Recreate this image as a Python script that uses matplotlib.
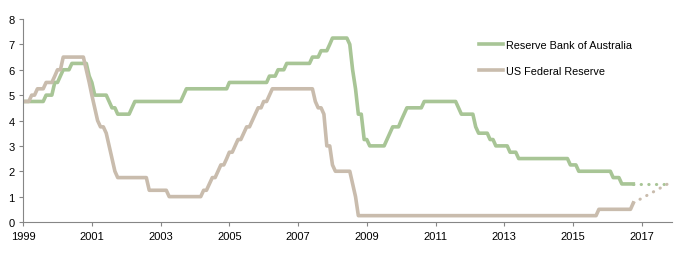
"""
Policy rates: Reserve Bank of Australia vs US Federal Reserve
"""
import pandas as pd
import matplotlib.pyplot as plt

# change points (month of change, rate %)
rba_dates = ["1999-03", "1999-11", "2000-02", "2000-04", "2000-05", "2000-08",
             "2001-02", "2001-03", "2001-04", "2001-09", "2001-10", "2001-12",
             "2002-05", "2002-06", "2003-11", "2003-12", "2005-03", "2006-05",
             "2006-08", "2006-11", "2007-08", "2007-11", "2008-02", "2008-03",
             "2008-09", "2008-10", "2008-11", "2008-12", "2009-02", "2009-04",
             "2009-10", "2009-11", "2009-12", "2010-03", "2010-04", "2010-05",
             "2010-11", "2011-11", "2011-12", "2012-05", "2012-06", "2012-10",
             "2012-12", "2013-05", "2013-08", "2015-02", "2015-05", "2016-05",
             "2016-08", "2016-12"]
rba_rates = [4.75, 5.00, 5.50, 5.75, 6.00, 6.25,
             5.75, 5.50, 5.00, 4.75, 4.50, 4.25,
             4.50, 4.75, 5.00, 5.25, 5.50, 5.75,
             6.00, 6.25, 6.50, 6.75, 7.00, 7.25,
             7.00, 6.00, 5.25, 4.25, 3.25, 3.00,
             3.25, 3.50, 3.75, 4.00, 4.25, 4.50,
             4.75, 4.50, 4.25, 3.75, 3.50, 3.25,
             3.00, 2.75, 2.50, 2.25, 2.00, 1.75,
             1.50, 1.50]

fed_dates = ["1999-03", "1999-06", "1999-08", "1999-11", "2000-02", "2000-03",
             "2000-05", "2001-01", "2001-02", "2001-03", "2001-04", "2001-05",
             "2001-06", "2001-08", "2001-09", "2001-10", "2001-11", "2001-12",
             "2002-11", "2003-06", "2004-06", "2004-08", "2004-09", "2004-11",
             "2004-12", "2005-02", "2005-03", "2005-05", "2005-06", "2005-08",
             "2005-09", "2005-11", "2005-12", "2006-01", "2006-03", "2006-05",
             "2006-06", "2007-09", "2007-10", "2007-12", "2008-01", "2008-02",
             "2008-03", "2008-04", "2008-10", "2008-11", "2008-12", "2015-12",
             "2016-12"]
fed_rates = [4.75, 5.00, 5.25, 5.50, 5.75, 6.00,
             6.50, 6.00, 5.50, 5.00, 4.50, 4.00,
             3.75, 3.50, 3.00, 2.50, 2.00, 1.75,
             1.25, 1.00, 1.25, 1.50, 1.75, 2.00,
             2.25, 2.50, 2.75, 3.00, 3.25, 3.50,
             3.75, 4.00, 4.25, 4.50, 4.75, 5.00,
             5.25, 4.75, 4.50, 4.25, 3.00, 3.00,
             2.25, 2.00, 1.50, 1.00, 0.25, 0.50,
             0.75]

# market-implied path
proj_dates = ["2016-12", "2017-12"]
rba_proj = [1.50, 1.50]
fed_proj = [0.75, 1.50]

year_ticks = ["1999", "2001", "2003", "2005", "2007", "2009", "2011", "2013", "2015", "2017"]

GREEN = "#a8c596"
TAUPE = "#c9bcad"


def monthly(dates, rates):
    # policy rate held between decisions -> month-start observations
    s = pd.Series(rates, index=pd.to_datetime(dates))
    return s.resample("MS").ffill()


plt.rcParams["font.family"] = ["Liberation Sans", "DejaVu Sans"]

fig = plt.figure(figsize=(6.78, 2.55), dpi=100)
ax = fig.add_axes([0.034, 0.1255, 0.957, 0.796])

rba = monthly(rba_dates, rba_rates)
fed = monthly(fed_dates, fed_rates)
ax.plot(rba.index, rba.values, color=GREEN, lw=2.6, solid_joinstyle="round",
        label="Reserve Bank of Australia")
ax.plot(fed.index, fed.values, color=TAUPE, lw=2.6, solid_joinstyle="round",
        label="US Federal Reserve")
# dotted projections
ax.plot(pd.to_datetime(proj_dates), rba_proj, color=GREEN, lw=2.2,
        linestyle=(0, (0.1, 2.4)), dash_capstyle="round")
ax.plot(pd.to_datetime(proj_dates), fed_proj, color=TAUPE, lw=2.2,
        linestyle=(0, (0.1, 2.4)), dash_capstyle="round")

ax.set_xlim(pd.Timestamp("1999-03-01"), pd.Timestamp("2018-01-15"))
ax.set_ylim(0, 8)
ax.set_yticks(range(0, 9))
ax.set_xticks([pd.Timestamp(y + "-03-01") for y in year_ticks])
ax.set_xticklabels(year_ticks)

for side in ["top", "right"]:
    ax.spines[side].set_visible(False)
for side in ["left", "bottom"]:
    ax.spines[side].set_color("#868686")
ax.tick_params(axis="both", colors="#868686", labelcolor="black", labelsize=8,
               length=3, width=0.8)
ax.tick_params(axis="y", pad=3)

ax.legend(loc="upper left", bbox_to_anchor=(0.687, 0.945), frameon=False,
          fontsize=7.8, handlelength=2.3, handletextpad=0.25, labelspacing=1.45)

plt.savefig("out.png", dpi=100)
